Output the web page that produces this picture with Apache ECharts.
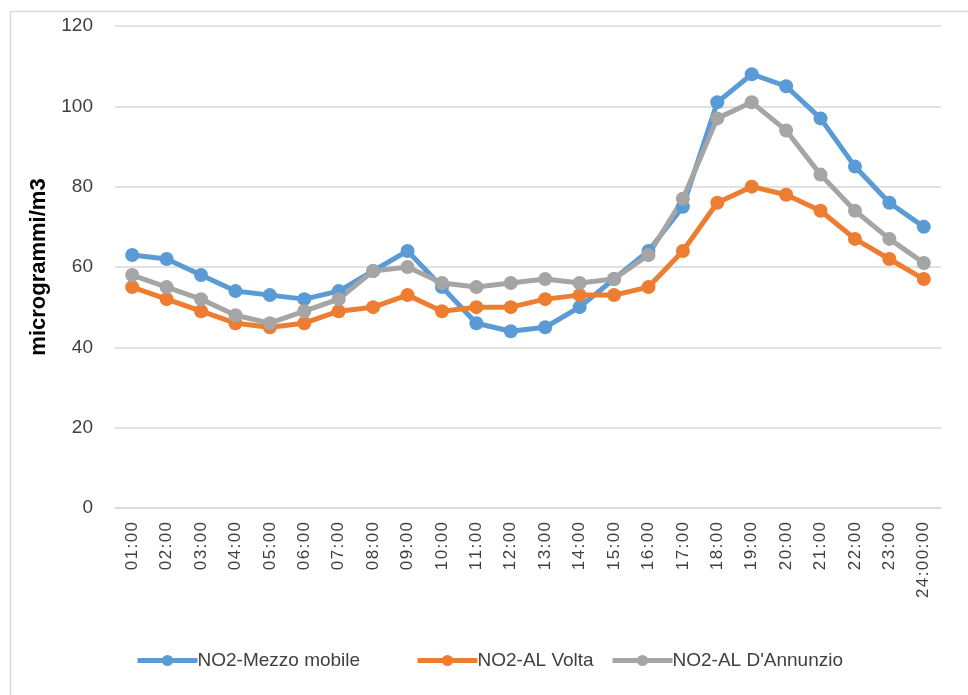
<!DOCTYPE html>
<html>
<head>
<meta charset="utf-8">
<script src="https://cdn.jsdelivr.net/npm/echarts@6/dist/echarts.min.js"></script>
<style>
  html, body { margin: 0; padding: 0; background: #fff; }
  #chart { width: 968px; height: 695px; }
</style>
</head>
<body>
<div id="chart"></div>
<script>
const hours = ['01:00', '02:00', '03:00', '04:00', '05:00', '06:00', '07:00', '08:00', '09:00', '10:00', '11:00', '12:00',
  '13:00', '14:00', '15:00', '16:00', '17:00', '18:00', '19:00', '20:00', '21:00', '22:00', '23:00', '24:00:00']
const mezzoMobile = [63, 62, 58, 54, 53, 52, 54, 59, 64, 55, 46, 44, 45, 50, 57, 64, 75, 101, 108, 105, 97, 85, 76, 70]
const alVolta = [55, 52, 49, 46, 45, 46, 49, 50, 53, 49, 50, 50, 52, 53, 53, 55, 64, 76, 80, 78, 74, 67, 62, 57]
const alDannunzio = [58, 55, 52, 48, 46, 49, 52, 59, 60, 56, 55, 56, 57, 56, 57, 63, 77, 97, 101, 94, 83, 74, 67, 61]
const seriesNames = ['NO2-Mezzo mobile', 'NO2-AL Volta', "NO2-AL D'Annunzio"]
const yTicks = [0, 20, 40, 60, 80, 100, 120]

const font = 'Liberation Sans'
const chart = echarts.init(document.getElementById('chart'))

function line(name, data, color) {
  return {
    name: name,
    type: 'line',
    data: data,
    symbol: 'circle',
    symbolSize: 14,
    lineStyle: { width: 5, color: color },
    itemStyle: { color: color },
    emphasis: { disabled: true },
  }
}

// one legend per entry so each can sit where the original puts it
const legendLeft = [130, 410, 605]
const legends = seriesNames.map(function (name, i) {
  return {
    bottom: 20,
    left: legendLeft[i],
    itemWidth: 60,
    itemHeight: 14,
    lineStyle: { width: 5 },
    textStyle: { fontFamily: font, fontSize: 19, color: '#404040', padding: [0, 0, 0, -5] },
    data: [name],
  }
})

const option = {
  animation: false,
  color: ['#5b9bd5', '#ed7d31', '#a5a5a5'],
  graphic: [
    {
      type: 'rect',
      shape: { x: 10.5, y: 11.5, width: 1000, height: 720 },
      style: { fill: 'none', stroke: '#d9d9d9', lineWidth: 1.5 },
      silent: true,
    },
  ],
  grid: { left: 115, right: 27, top: 26, bottom: 187 },
  legend: legends,
  xAxis: {
    type: 'category',
    data: hours,
    boundaryGap: true,
    axisLine: { show: true, lineStyle: { color: '#d9d9d9', width: 1.5 } },
    axisTick: { show: false },
    axisLabel: {
      rotate: 90,
      interval: 0,
      margin: 14,
      fontFamily: font,
      fontSize: 17,
      color: '#404040',
      formatter: function (v) { return v.split('').join('\u200a') },
    },
  },
  yAxis: {
    type: 'value',
    min: yTicks[0],
    max: yTicks[yTicks.length - 1],
    interval: 20,
    name: 'microgrammi/m3',
    nameLocation: 'middle',
    nameGap: 63,
    nameTextStyle: { fontFamily: font, fontSize: 22, fontWeight: 'bold', color: '#000' },
    axisLine: { show: false },
    axisTick: { show: false },
    axisLabel: { margin: 22, fontFamily: font, fontSize: 19, color: '#404040' },
    splitLine: { lineStyle: { color: '#d9d9d9', width: 1.5 } },
  },
  series: [
    line(seriesNames[0], mezzoMobile, '#5b9bd5'),
    line(seriesNames[1], alVolta, '#ed7d31'),
    line(seriesNames[2], alDannunzio, '#a5a5a5'),
  ],
}

option && chart.setOption(option)
</script>
</body>
</html>
